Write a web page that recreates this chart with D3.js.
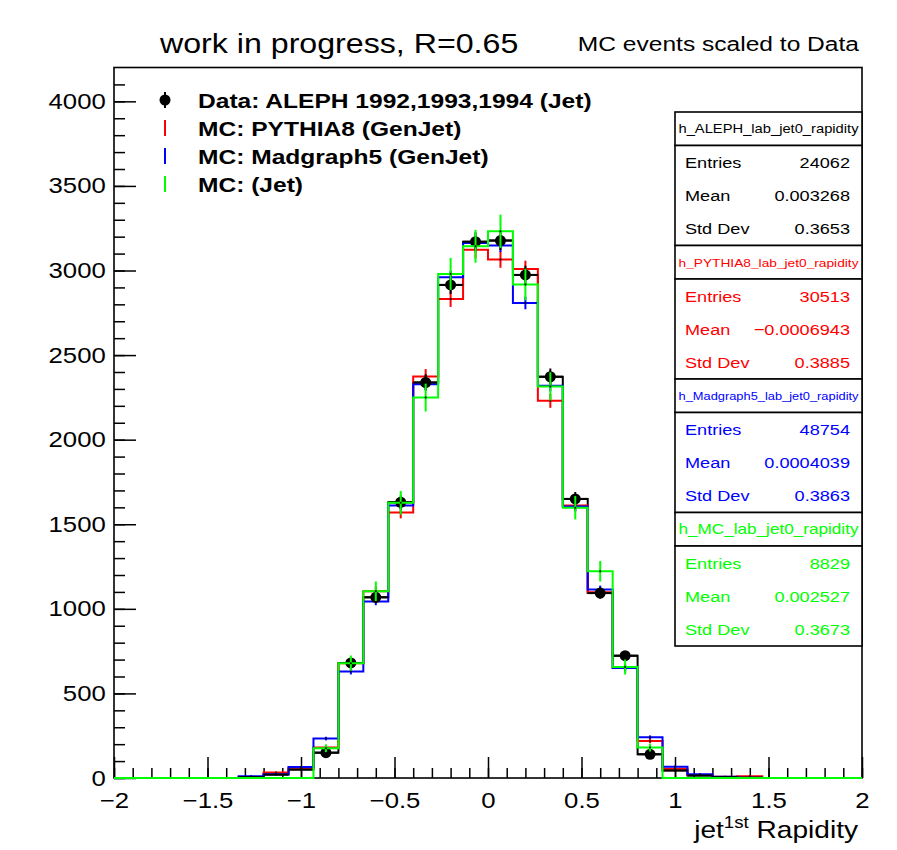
<!DOCTYPE html>
<html>
<head>
<meta charset="utf-8">
<script src="https://cdn.jsdelivr.net/npm/d3@7"></script>
<style>
  body { margin: 0; background: #fff; }
  svg { display: block; }
  text { font-family: "Liberation Sans", Arial, Helvetica, sans-serif; }
</style>
</head>
<body>
<svg id="svg"></svg>
<script>

// 30 bins between -2 and 2 (jet rapidity)
const xRange = [-2, 2];
const nBins = 30;

// bin contents, bin 0 = [-2, -1.867]
const aleph    = [0,0,0,0,0, 5,20,50,150,680, 1068,1630,2338,2915,3170, 3177,2974,2372,1650,1093, 723,140,45,15,5, 2,0,0,0,0];
const pythia8  = [0,0,0,0,0, 5,32,60,180,679, 1104,1570,2374,2832,3122, 3065,3009,2230,1611,1098, 650,219,55,18,8, 10,0,0,0,0];
const madgraph = [0,0,0,0,0, 10,22,65,233,630, 1044,1611,2328,2960,3163, 3148,2808,2319,1605,1114, 650,241,67,22,8, 2,0,0,0,0];
const mcJet    = [0,0,0,0,0, 0,0,0,176,679, 1104,1627,2249,2980,3143, 3232,2917,2315,1598,1222, 656,180,0,0,0, 0,0,0,0,0];

// scale factor MC -> data, used for the poisson error bars
const errScale = { aleph: 1, pythia8: 0.79, madgraph: 0.49, mcJet: 3.0 };

const legendLabels = [
    "Data: ALEPH 1992,1993,1994 (Jet)",
    "MC: PYTHIA8 (GenJet)",
    "MC: Madgraph5 (GenJet)",
    "MC: (Jet)"
];

const statTitles = ["h_ALEPH_lab_jet0_rapidity", "h_PYTHIA8_lab_jet0_rapidity", "h_Madgraph5_lab_jet0_rapidity", "h_MC_lab_jet0_rapidity"];
const statEntries = ["24062", "30513", "48754", "8829"];
const statMeans = ["0.003268", "\u22120.0006943", "0.0004039", "0.002527"];
const statStd = ["0.3653", "0.3885", "0.3863", "0.3673"];
const statColours = ["#000000", "#ff0000", "#0000ff", "#00ff00"];
const statTitleSize = [13, 11, 11, 14.5];

const xTicks = [-2, -1.5, -1, -0.5, 0, 0.5, 1, 1.5, 2];
const yTicks = [0, 500, 1000, 1500, 2000, 2500, 3000, 3500, 4000];

const width = 897;
const height = 850;
const SX = 1.17;   // the original picture is a bit stretched sideways

let svg = d3.select("#svg").attr("width", width).attr("height", height);

const frame = { left: 114, right: 862, top: 67.5, bottom: 778 };

let xScale = d3.scaleLinear().domain(xRange).range([frame.left, frame.right]);
let yScale = d3.scaleLinear().domain([0, 4200]).range([frame.bottom, frame.top]);

const binW = (xRange[1] - xRange[0]) / nBins;
const edges = d3.range(nBins + 1).map(i => xRange[0] + i * binW);
const centres = d3.range(nBins).map(i => xRange[0] + (i + 0.5) * binW);

function txt(parent, x, y, s, size, opts = {}) {
    return parent.append("text")
        .attr("transform", `translate(${x},${y}) scale(${SX},1)`)
        .attr("text-anchor", opts.anchor || "start")
        .style("font-size", size + "px")
        .style("font-weight", opts.bold ? "bold" : "normal")
        .style("fill", opts.fill || "#000")
        .text(s);
}

// step outline of a histogram
const stepLine = d3.line()
    .x(d => xScale(d[0]))
    .y(d => yScale(d[1]))
    .curve(d3.curveStepAfter);

function drawHist(vals, colour, k, withPoints) {
    let pts = edges.map((e, i) => [e, vals[Math.min(i, nBins - 1)]]);
    let g = svg.append("g");
    g.append("path")
        .attr("d", stepLine(pts))
        .attr("fill", "none")
        .attr("stroke", colour)
        .attr("stroke-width", 2);
    if (withPoints) return g;
    // vertical error bars at bin centres
    vals.forEach((v, i) => {
        if (v <= 0) return;
        let e = Math.sqrt(v * k);
        g.append("line")
            .attr("x1", xScale(centres[i])).attr("x2", xScale(centres[i]))
            .attr("y1", yScale(v - e)).attr("y2", yScale(v + e))
            .attr("stroke", colour).attr("stroke-width", 2);
        g.append("circle")
            .attr("cx", xScale(centres[i])).attr("cy", yScale(v))
            .attr("r", 1).attr("fill", "#000");
    });
    return g;
}

function drawDataPoints(vals) {
    let g = svg.append("g");
    vals.forEach((v, i) => {
        if (v <= 0) return;
        let e = Math.sqrt(v);
        g.append("line")
            .attr("x1", xScale(edges[i])).attr("x2", xScale(edges[i + 1]))
            .attr("y1", yScale(v)).attr("y2", yScale(v))
            .attr("stroke", "#000").attr("stroke-width", 2);
        g.append("line")
            .attr("x1", xScale(centres[i])).attr("x2", xScale(centres[i]))
            .attr("y1", yScale(v - e)).attr("y2", yScale(v + e))
            .attr("stroke", "#000").attr("stroke-width", 2);
        if (v > 100) {
            g.append("circle")
                .attr("cx", xScale(centres[i])).attr("cy", yScale(v))
                .attr("r", 5.5).attr("fill", "#000");
        }
    });
}

// axes (ticks drawn inside the frame, ROOT style)
let xMinor = d3.range(-20, 21).map(i => i / 10);
let yMinor = d3.range(0, 42).map(i => i * 100);

svg.append("g")
    .attr("transform", `translate(0,${frame.bottom})`)
    .call(d3.axisBottom(xScale).tickValues(xMinor).tickSize(-10).tickFormat(""))
    .call(g => g.select(".domain").remove());
let xAx = svg.append("g")
    .attr("transform", `translate(0,${frame.bottom})`)
    .call(d3.axisBottom(xScale).tickValues(xTicks).tickSize(-21).tickPadding(14)
        .tickFormat(d3.format("~g")));
xAx.select(".domain").remove();

svg.append("g")
    .attr("transform", `translate(${frame.left},0)`)
    .call(d3.axisLeft(yScale).tickValues(yMinor).tickSize(-11).tickFormat(""))
    .call(g => g.select(".domain").remove());
let yAx = svg.append("g")
    .attr("transform", `translate(${frame.left},0)`)
    .call(d3.axisLeft(yScale).tickValues(yTicks).tickSize(-22).tickPadding(7)
        .tickFormat(d3.format("d")));
yAx.select(".domain").remove();

svg.selectAll(".tick line").attr("stroke", "#000").attr("stroke-width", 1.5);
[xAx, yAx].forEach(ax => ax.selectAll("text")
    .style("font-size", "22px")
    .style("font-family", "Liberation Sans, Arial, sans-serif")
    .attr("fill", "#000")
    .attr("transform", `scale(${SX},1)`));

// frame
svg.append("rect")
    .attr("x", frame.left).attr("y", frame.top)
    .attr("width", frame.right - frame.left).attr("height", frame.bottom - frame.top)
    .attr("fill", "none").attr("stroke", "#000").attr("stroke-width", 1.6);

// histograms
drawHist(aleph, "#000", 1, true);
drawHist(pythia8, "#ff0000", errScale.pythia8);
drawHist(madgraph, "#0000ff", errScale.madgraph);
drawDataPoints(aleph);
drawHist(mcJet, "#00ff00", errScale.mcJet);

// titles
txt(svg, 160, 53, "work in progress, R=0.65", 27.5);
txt(svg, 859, 51, "MC events scaled to Data", 21, { anchor: "end" });

let xt = svg.append("text")
    .attr("transform", `translate(858,838) scale(${SX},1)`)
    .attr("text-anchor", "end")
    .style("font-size", "24px");
xt.append("tspan").text("jet");
xt.append("tspan").attr("dy", -10).style("font-size", "16px").text("1st");
xt.append("tspan").attr("dy", 10).text(" Rapidity");

// legend
const legColours = ["#000", "#ff0000", "#0000ff", "#00ff00"];
legendLabels.forEach((lab, i) => {
    let ly = 100 + i * 28;
    svg.append("line")
        .attr("x1", 165).attr("x2", 165).attr("y1", ly - 8).attr("y2", ly + 8)
        .attr("stroke", legColours[i]).attr("stroke-width", 2);
    if (i == 0) {
        svg.append("circle").attr("cx", 165).attr("cy", ly).attr("r", 5.5).attr("fill", "#000");
    }
    txt(svg, 198, ly + 7.5, lab, 21, { bold: true });
});

// stat boxes
const boxX = 675, boxR = 862, titleH = 33.5, bodyH = 100;
statTitles.forEach((t, i) => {
    let top = 112 + i * (titleH + bodyH);
    let g = svg.append("g");
    g.append("rect").attr("x", boxX).attr("y", top)
        .attr("width", boxR - boxX).attr("height", titleH)
        .attr("fill", "#fff").attr("stroke", "#000").attr("stroke-width", 1.6);
    g.append("rect").attr("x", boxX).attr("y", top + titleH)
        .attr("width", boxR - boxX).attr("height", bodyH)
        .attr("fill", "#fff").attr("stroke", "#000").attr("stroke-width", 1.6);
    g.append("text")
        .attr("x", (boxX + boxR) / 2).attr("y", top + 21)
        .attr("text-anchor", "middle")
        .attr("textLength", 180).attr("lengthAdjust", "spacingAndGlyphs")
        .style("font-size", statTitleSize[i] + "px")
        .style("fill", statColours[i])
        .text(t);
    let rows = [["Entries", statEntries[i]], ["Mean", statMeans[i]], ["Std Dev", statStd[i]]];
    rows.forEach((r, j) => {
        let ry = top + titleH + 22.5 + j * 33;
        txt(g, 685, ry, r[0], 15.5, { fill: statColours[i] });
        txt(g, 850, ry, r[1], 15.5, { fill: statColours[i], anchor: "end" });
    });
});

</script>
</body>
</html>
